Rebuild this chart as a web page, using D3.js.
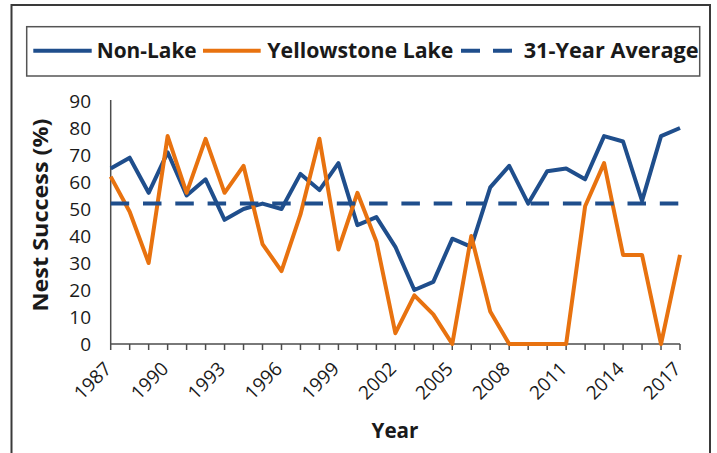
<!DOCTYPE html>
<html>
<head>
<meta charset="utf-8">
<script src="https://cdn.jsdelivr.net/npm/d3@7/dist/d3.min.js"></script>
<style>
  html, body { margin: 0; padding: 0; background: #fff; }
  svg { display: block; }
  text { font-family: "Open Sans", "DejaVu Sans", sans-serif; fill: #1a1a1a; }
</style>
</head>
<body>
<svg id="chart" width="717" height="453"></svg>
<script>
const years = [1987, 1988, 1989, 1990, 1991, 1992, 1993, 1994, 1995, 1996, 1997,
  1998, 1999, 2000, 2001, 2002, 2003, 2004, 2005, 2006, 2007, 2008, 2009, 2010,
  2011, 2012, 2013, 2014, 2015, 2016, 2017];
const nonLake = [65, 69, 56, 71, 55, 61, 46, 50, 52, 50, 63, 57, 67, 44, 47, 36,
  20, 23, 39, 36, 58, 66, 52, 64, 65, 61, 77, 75, 53, 77, 80];
const yellowstoneLake = [62, 49, 30, 77, 56, 76, 56, 66, 37, 27, 48, 76, 35, 56,
  38, 4, 18, 11, 0, 40, 12, 0, 0, 0, 0, 51, 67, 33, 33, 0, 33];
const averageValue = 52;
const yTicks = [0, 10, 20, 30, 40, 50, 60, 70, 80, 90];
const xTickLabels = [1987, 1990, 1993, 1996, 1999, 2002, 2005, 2008, 2011, 2014, 2017];
const seriesNames = ["Non-Lake", "Yellowstone Lake", "31-Year Average"];

const blue = "#1f4e8c";
const orange = "#e8720f";

const svg = d3.select("#chart");

const x = d3.scaleLinear().domain([1987, 2017]).range([110.7, 680]);
const y = d3.scaleLinear().domain([0, 90]).range([344, 101]);

// outer frame
svg.append("rect").attr("x", 11.5).attr("y", 5).attr("width", 698.5).attr("height", 470)
  .attr("fill", "none").attr("stroke", "#3a3a3a").attr("stroke-width", 2);

// legend box
svg.append("rect").attr("x", 26.7).attr("y", 26.7).attr("width", 673).attr("height", 49.3)
  .attr("fill", "none").attr("stroke", "#555").attr("stroke-width", 1.5);

// axes
const axisColor = "#4d4d4d";
svg.append("line").attr("x1", x(1987)).attr("x2", x(1987)).attr("y1", y(90) - 1).attr("y2", y(0))
  .attr("stroke", axisColor).attr("stroke-width", 1.5);
svg.append("line").attr("x1", x(1987)).attr("x2", x(2017)).attr("y1", y(0)).attr("y2", y(0))
  .attr("stroke", axisColor).attr("stroke-width", 1.5);
svg.append("g").selectAll("line").data(years).join("line")
  .attr("x1", d => x(d)).attr("x2", d => x(d)).attr("y1", y(0)).attr("y2", y(0) + 6)
  .attr("stroke", axisColor).attr("stroke-width", 1.5);

// y tick labels
svg.append("g").selectAll("text").data(yTicks).join("text")
  .attr("x", 91).attr("y", d => y(d)).attr("dy", "0.36em")
  .attr("text-anchor", "end").attr("font-size", 19).text(d => d);

// x tick labels
svg.append("g").selectAll("text").data(xTickLabels).join("text")
  .attr("text-anchor", "end").attr("font-size", 19)
  .attr("transform", d => `translate(${x(d) + 2},${370}) rotate(-45)`)
  .text(d => d);

// axis titles
svg.append("text").attr("text-anchor", "middle").attr("font-size", 22).attr("font-weight", 700)
  .attr("transform", "translate(48,215) rotate(-90)")
  .attr("textLength", 193).attr("lengthAdjust", "spacingAndGlyphs")
  .text("Nest Success (%)");
svg.append("text").attr("x", 395).attr("y", 438).attr("text-anchor", "middle")
  .attr("font-size", 22).attr("font-weight", 700)
  .attr("textLength", 47).attr("lengthAdjust", "spacingAndGlyphs")
  .text("Year");

// series lines
const line = d3.line().x((d, i) => x(years[i])).y(d => y(d));
svg.append("path").datum(nonLake).attr("d", line)
  .attr("fill", "none").attr("stroke", blue).attr("stroke-width", 4)
  .attr("stroke-linejoin", "round");
svg.append("path").datum(yellowstoneLake).attr("d", line)
  .attr("fill", "none").attr("stroke", orange).attr("stroke-width", 4)
  .attr("stroke-linejoin", "round");
svg.append("line")
  .attr("x1", x(years[0])).attr("x2", x(years[years.length - 1]))
  .attr("y1", y(averageValue)).attr("y2", y(averageValue))
  .attr("stroke", blue).attr("stroke-width", 4).attr("stroke-dasharray", "18.5,13.8");

// legend
const legendY = 50.7;
const legendItems = [
  { name: seriesNames[0], color: blue, dash: null, x1: 33.3, x2: 91.7, tx: 96.7, tl: 100 },
  { name: seriesNames[1], color: orange, dash: null, x1: 203, x2: 260.7, tx: 267.3, tl: 186 },
  { name: seriesNames[2], color: blue, dash: "19,13", x1: 461, x2: 512, tx: 523.7, tl: 175 }
];
const lg = svg.append("g");
legendItems.forEach(it => {
  const l = lg.append("line").attr("x1", it.x1).attr("x2", it.x2)
    .attr("y1", legendY).attr("y2", legendY)
    .attr("stroke", it.color).attr("stroke-width", 4);
  if (it.dash) l.attr("stroke-dasharray", it.dash);
  lg.append("text").attr("x", it.tx).attr("y", 58.3)
    .attr("font-size", 22).attr("font-weight", 700)
    .attr("textLength", it.tl).attr("lengthAdjust", "spacingAndGlyphs")
    .text(it.name);
});
</script>
</body>
</html>
